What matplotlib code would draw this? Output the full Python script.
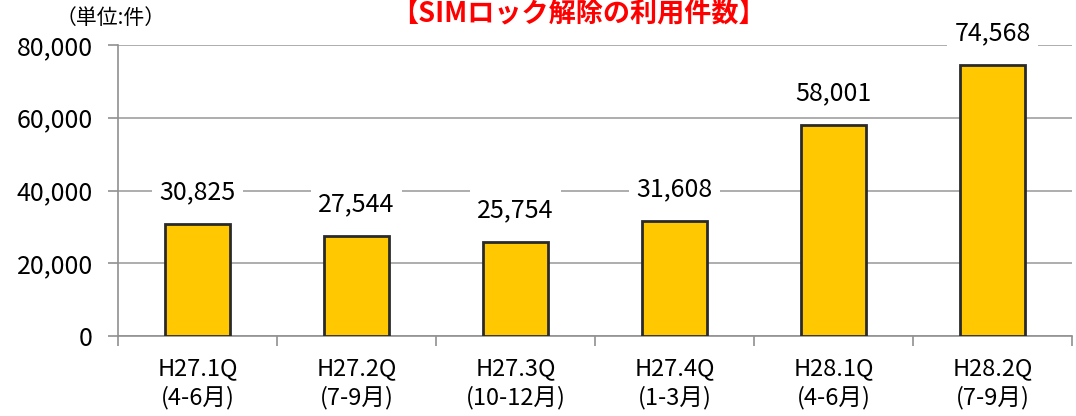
import matplotlib
matplotlib.use("Agg")
import matplotlib.pyplot as plt
import numpy as np

plt.rcParams['font.family'] = ['Noto Sans CJK JP', 'DejaVu Sans']

categories = ["H27.1Q\n(4-6月)", "H27.2Q\n(7-9月)", "H27.3Q\n(10-12月)",
              "H27.4Q\n(1-3月)", "H28.1Q\n(4-6月)", "H28.2Q\n(7-9月)"]
values = [30825, 27544, 25754, 31608, 58001, 74568]
yticks = [0, 20000, 40000, 60000, 80000]
title = "【SIMロック解除の利用件数】"
unit = "（単位:件）"

fig = plt.figure(figsize=(10.76, 4.16), dpi=100)
ax = fig.add_axes([118/1076, 1-336/416, (1072-118)/1076, (336-45)/416])

x = np.arange(len(categories))
ax.set_axisbelow(True)
ax.grid(axis='y', color='#a0a0a0', linewidth=1.2)
ax.bar(x, values, width=0.415, color='#FFC800', edgecolor='#2a2a2a', linewidth=2, zorder=3)

for xi, v in zip(x, values):
    ax.annotate(f"{v:,}", xy=(xi, v), xytext=(0, 23), textcoords='offset points',
                ha='center', va='center', fontsize=18,
                bbox=dict(facecolor='white', edgecolor='none', pad=5), zorder=4)

ax.set_xlim(-0.5, len(categories) - 0.5)
ax.set_ylim(0, 80000)
ax.set_yticks(yticks)
ax.set_yticklabels([f"{t:,}" for t in yticks], fontsize=18)
ax.set_xticks(x)
ax.set_xticklabels(categories, fontsize=17, linespacing=1.3)
ax.set_xticks(np.arange(len(categories) + 1) - 0.5, minor=True)
ax.tick_params(axis='x', which='major', length=0, pad=15)
ax.tick_params(axis='x', which='minor', length=7, color='#909090', width=1.2)
ax.tick_params(axis='y', length=7, color='#909090', width=1.2, pad=11)

for s in ['top', 'right']:
    ax.spines[s].set_visible(False)
for s in ['left', 'bottom']:
    ax.spines[s].set_color('#909090')
    ax.spines[s].set_linewidth(1.2)

fig.text(578/1076, 1-14/416, title, ha='center', va='center', fontsize=19.5,
         fontweight='bold', color='#FF0000')
fig.text(111/1076, 1-18/416, unit, ha='center', va='center', fontsize=15)

fig.savefig("out.png", dpi=100)
